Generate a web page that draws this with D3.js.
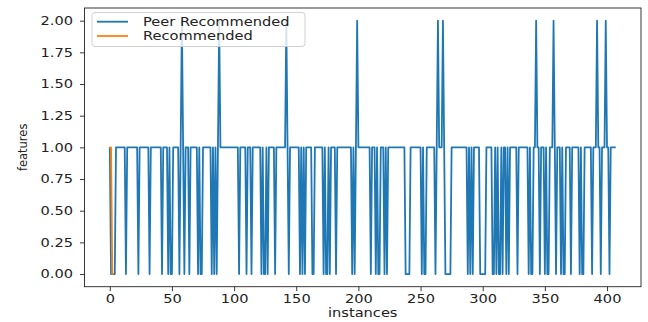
<!DOCTYPE html>
<html>
<head>
<meta charset="utf-8">
<script src="https://cdnjs.cloudflare.com/ajax/libs/d3/7.8.5/d3.min.js"></script>
<style>
  body { margin: 0; background: #fff; }
  text { font-family: "DejaVu Sans", sans-serif; fill: #222; }
</style>
</head>
<body>
<div id="chart"></div>
<script>
// values, one per instance (0..407)
const peerRecommended = [
  1,0,0,0,0,1,1,1,1,1,1,1,1,0,1,1,1,1,1,1,
  1,1,1,0,1,1,1,1,1,1,1,1,0,1,1,1,1,1,1,1,
  1,1,0,1,1,1,1,0,1,0,0,1,1,1,1,1,0,1,2,1,
  0,1,1,1,0,1,1,1,1,1,1,0,1,0,0,1,1,1,1,1,
  1,1,0,1,0,1,0,1,2,1,1,1,1,1,1,1,1,1,1,1,
  1,1,1,1,0,1,1,1,1,1,0,1,1,1,0,1,1,1,1,1,
  1,1,0,1,0,0,1,0,1,1,1,1,1,0,1,1,1,1,1,1,
  1,1,2,1,0,1,1,1,1,1,1,1,1,0,1,0,1,0,1,1,
  1,1,1,0,0,1,1,1,1,1,1,1,0,1,0,0,1,0,1,1,
  1,1,0,1,1,1,1,1,1,1,1,1,1,1,1,0,1,0,1,2,
  1,1,1,1,1,1,1,1,1,1,0,1,1,1,0,1,0,0,1,1,
  1,0,1,0,1,1,1,1,1,1,1,1,1,1,1,1,1,1,0,0,
  0,0,1,1,1,1,1,1,1,1,1,0,1,0,0,1,1,1,1,1,
  1,1,0,1,2,1,1,1,2,1,0,0,0,0,0,1,1,1,1,1,
  1,1,1,1,1,1,1,1,0,1,0,1,0,1,1,1,1,1,0,0,
  0,0,0,1,1,1,1,1,0,0,1,0,1,0,0,1,0,1,1,0,
  1,0,1,1,1,1,1,1,0,1,1,1,1,1,1,1,1,0,1,0,
  0,1,1,2,1,1,0,1,1,1,0,1,0,0,1,1,1,2,1,0,
  1,1,1,0,1,0,0,1,1,1,1,0,1,1,1,1,1,1,0,1,
  0,0,1,1,1,1,1,1,0,1,1,1,2,1,1,0,1,1,1,2,
  1,1,0,1,1,1,1,1
];
const recommended = [1, 1, 0, 0];

const seriesNames = ['Peer Recommended', 'Recommended'];
const seriesColors = ['#1f77b4', '#ff7f0e'];

const xTicks = [0, 50, 100, 150, 200, 250, 300, 350, 400];
const yTicks = [0, 0.25, 0.5, 0.75, 1, 1.25, 1.5, 1.75, 2];
const yTickLabels = ['0.00', '0.25', '0.50', '0.75', '1.00', '1.25', '1.50', '1.75', '2.00'];
const xLabel = 'instances';
const yLabel = 'features';

const width = 648;
const height = 322;
const plot = { left: 84.5, right: 641, top: 8, bottom: 286.7 };
// the picture is stretched sideways, so horizontal text is widened to match
const stretch = 1.27;

const svg = d3.select('#chart')
  .append('svg')
  .attr('width', width)
  .attr('height', height);

const n = peerRecommended.length - 1;
const xPad = n * 0.05;
const xScale = d3.scaleLinear()
  .domain([-xPad, n + xPad])
  .range([plot.left, plot.right]);

const yScale = d3.scaleLinear()
  .domain([-0.1, 2.1])
  .range([plot.bottom, plot.top]);

svg.append('clipPath')
  .attr('id', 'plot-clip')
  .append('rect')
  .attr('x', plot.left)
  .attr('y', plot.top)
  .attr('width', plot.right - plot.left)
  .attr('height', plot.bottom - plot.top);

const line = d3.line()
  .x((d, i) => xScale(i))
  .y(d => yScale(d));

[peerRecommended, recommended].forEach((series, k) => {
  svg.append('path')
    .datum(series)
    .attr('clip-path', 'url(#plot-clip)')
    .attr('d', line)
    .attr('fill', 'none')
    .attr('stroke', seriesColors[k])
    .attr('stroke-width', 1.8)
    .attr('stroke-linejoin', 'round');
});

// axes
const xAxis = svg.append('g')
  .attr('transform', `translate(0,${plot.bottom})`)
  .call(d3.axisBottom(xScale)
    .tickValues(xTicks)
    .tickSizeInner(4.5)
    .tickSizeOuter(0)
    .tickPadding(3.5)
    .tickFormat(d3.format('d')));

const yAxis = svg.append('g')
  .attr('transform', `translate(${plot.left},0)`)
  .call(d3.axisLeft(yScale)
    .tickValues(yTicks)
    .tickSizeInner(4.5)
    .tickSizeOuter(0)
    .tickPadding(7)
    .tickFormat((d, i) => yTickLabels[i]));

[xAxis, yAxis].forEach(g => {
  g.select('.domain').remove();
  g.selectAll('.tick line').attr('stroke', '#222').attr('stroke-width', 0.9);
  g.selectAll('.tick text')
    .attr('fill', '#222')
    .style('font-size', '11.5px')
    .style('font-family', '"DejaVu Sans", sans-serif');
});

svg.append('rect')
  .attr('x', plot.left)
  .attr('y', plot.top)
  .attr('width', plot.right - plot.left)
  .attr('height', plot.bottom - plot.top)
  .attr('fill', 'none')
  .attr('stroke', '#222')
  .attr('stroke-width', 0.9);

svg.append('text')
  .attr('class', 'wide')
  .attr('x', (plot.left + plot.right) / 2)
  .attr('y', 316.5)
  .attr('text-anchor', 'middle')
  .style('font-size', '11.5px')
  .text(xLabel);

svg.append('text')
  .attr('transform', `translate(27,${(plot.top + plot.bottom) / 2}) rotate(-90)`)
  .attr('text-anchor', 'middle')
  .style('font-size', '11.5px')
  .text(yLabel);

// legend
const legend = svg.append('g');

legend.append('rect')
  .attr('x', 92)
  .attr('y', 12.5)
  .attr('width', 213)
  .attr('height', 34)
  .attr('rx', 3)
  .attr('fill', '#fff')
  .attr('fill-opacity', 0.8)
  .attr('stroke', '#ccc')
  .attr('stroke-width', 0.9);

seriesNames.forEach((name, k) => {
  const rowY = 21.7 + k * 14.3;
  legend.append('line')
    .attr('x1', 97)
    .attr('x2', 128)
    .attr('y1', rowY)
    .attr('y2', rowY)
    .attr('stroke', seriesColors[k])
    .attr('stroke-width', 1.8);
  legend.append('text')
    .attr('class', 'wide')
    .attr('x', 143)
    .attr('y', rowY + 4.2)
    .style('font-size', '11.5px')
    .text(name);
});

// widen horizontal text to match the sideways stretch of the picture
svg.selectAll('.tick text, text.wide').each(function () {
  const w = this.getComputedTextLength();
  d3.select(this)
    .attr('textLength', w * stretch)
    .attr('lengthAdjust', 'spacingAndGlyphs');
});
</script>
</body>
</html>
